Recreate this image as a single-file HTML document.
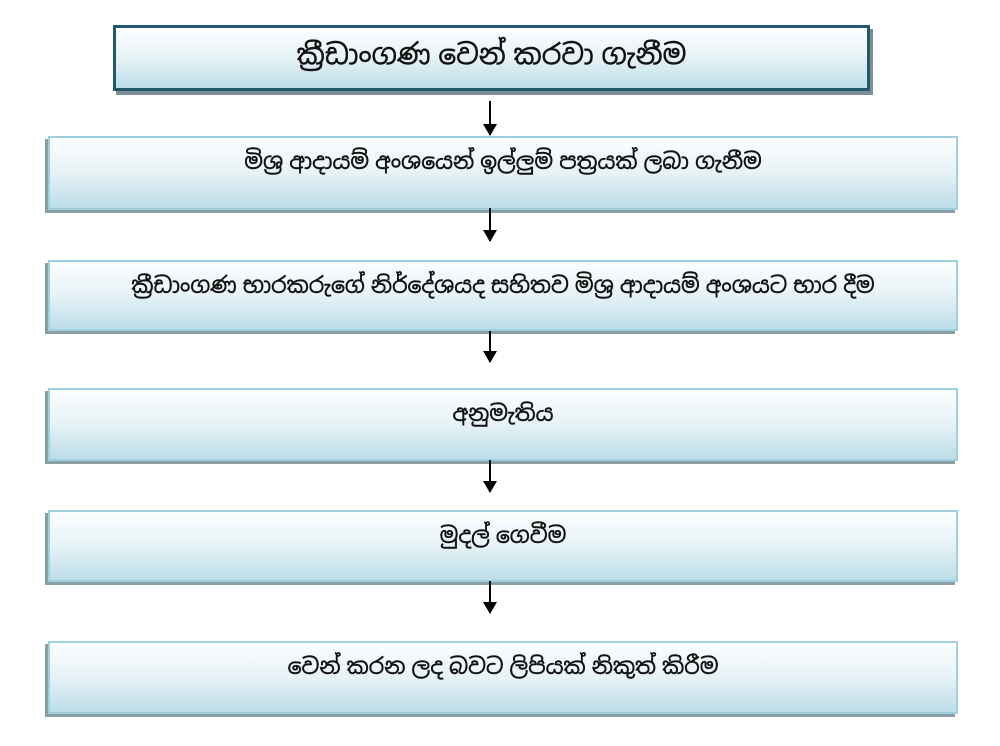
<!DOCTYPE html>
<html><head><meta charset="utf-8"><style>
body{margin:0;width:1000px;height:746px;background:#fff;position:relative;overflow:hidden;font-family:"Liberation Sans","Noto Sans Sinhala","Iskoola Pota",sans-serif;}
.b{position:absolute;box-sizing:border-box;background:linear-gradient(#fdfeff,#e6f2f6 50%,#bcdde8);border:2px solid #9fd0de;box-shadow:-3px 3px 0 #8a9ea6;text-align:center;font-size:22px;color:#111;-webkit-text-stroke:0.4px #111;white-space:nowrap;}
.t{border:3px solid #235a6a;box-shadow:3px 4px 0 #7d8f96;font-size:28px;}
.a{position:absolute;left:489px;width:2px;background:#000;}
.a:after{content:"";position:absolute;left:-6px;bottom:-1px;border-left:7px solid transparent;border-right:7px solid transparent;border-top:12px solid #000;}
</style></head><body>
<div class="b t" style="left:113px;top:25px;width:757px;height:66px;line-height:54px;">ක්‍රීඩාංගණ වෙන් කරවා ගැනීම</div>
<div class="b" style="left:48px;top:136px;width:910px;height:74px;padding-top:10px;">මිශ්‍ර ආදායම් අංශයෙන් ඉල්ලුම් පත්‍රයක් ලබා ගැනීම</div>
<div class="b" style="left:48px;top:260px;width:910px;height:71px;padding-top:10px;">ක්‍රීඩාංගණ භාරකරුගේ නිර්දේශයද සහිතව මිශ්‍ර ආදායම් අංශයට භාර දීම</div>
<div class="b" style="left:48px;top:388px;width:910px;height:73px;padding-top:10px;">අනුමැතිය</div>
<div class="b" style="left:48px;top:510px;width:910px;height:72px;padding-top:10px;">මුදල් ගෙවීම</div>
<div class="b" style="left:48px;top:641px;width:910px;height:73px;padding-top:10px;">වෙන් කරන ලද බවට ලිපියක් නිකුත් කිරීම</div>
<div class="a" style="top:101px;height:34px"></div>
<div class="a" style="top:208px;height:33px"></div>
<div class="a" style="top:331px;height:31px"></div>
<div class="a" style="top:460px;height:32px"></div>
<div class="a" style="top:581px;height:32px"></div>
</body></html>
